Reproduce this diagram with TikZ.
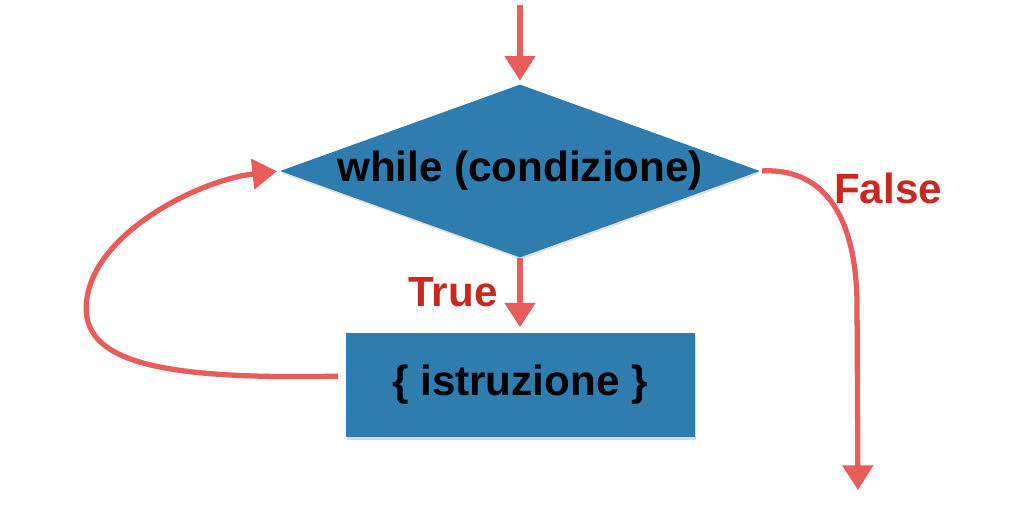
\documentclass[tikz,border=0pt]{standalone}
\usepackage{fontspec}
\setmainfont{Liberation Sans}
\usepackage{xcolor}
\usepackage{tikz}
\usetikzlibrary{positioning, shapes, shapes.geometric, shadows, arrows.meta, calc}

\definecolor{boxblue}{RGB}{47,125,175}
\definecolor{arrowred}{RGB}{232,92,90}
\definecolor{labelred}{RGB}{200,40,30}

\begin{document}
\begin{tikzpicture}[
    every node/.style={font=\fontsize{24}{28}\selectfont\bfseries},
    decision/.style={diamond, fill=boxblue, aspect=2.77, inner sep=0pt, minimum width=9.6cm, minimum height=3.46cm,
        drop shadow={opacity=0.25, shadow xshift=0.5pt, shadow yshift=-1.2pt}},
    block/.style={rectangle, fill=boxblue, minimum width=6.98cm, minimum height=2.08cm,
        drop shadow={opacity=0.3, shadow xshift=0.8pt, shadow yshift=-1.5pt}},
    flow/.style={draw=arrowred, line width=3pt, -{Triangle[width=17pt,length=14pt]}},
    branch/.style={text=labelred},
    text=black
]
\useasboundingbox (0,0) rectangle (20.48,-10.18);

% blocchi
\node[decision] (cond) at (10.4,-3.42) {while (condizione)};
\node[block] (istr) at (10.4,-7.7) {\{ istruzione \}};

% etichette
\node[branch] (vero) at (9.06,-5.84) {True};
\node[branch] (falso) at (17.76,-3.76) {False};

% estremi liberi
\coordinate (start) at (10.4,-0.1);
\coordinate (fine) at (17.16,-9.8);

% frecce
\draw[flow, shorten >=2pt] (start) -- (cond.north);
\draw[flow, shorten >=3pt] (cond.south) -- (istr.north);
\draw[flow, shorten <=4pt, shorten >=1.5pt] ([yshift=0.18cm]istr.west)
    .. controls (3.0,-7.6) and (1.5,-7.2) .. (1.75,-5.9)
    .. controls (2.0,-4.6) and (4.0,-3.6) .. (cond.west);
\draw[flow, shorten <=1pt] (cond.east)
    .. controls (16.4,-3.36) and (17.1,-4.2) .. (17.14,-6.0)
    -- (fine);

\end{tikzpicture}
\end{document}
